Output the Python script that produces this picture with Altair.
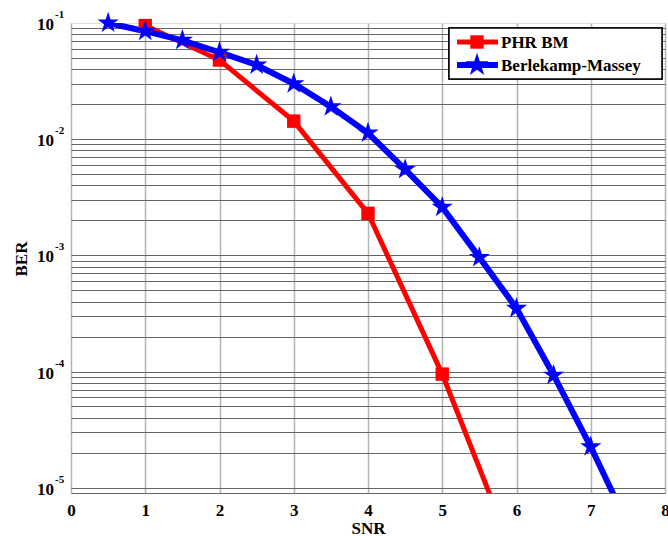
import altair as alt
import pandas as pd

# ---- data ----
series = ["PHR BM", "Berlekamp-Massey"]
snr_phr = [1, 2, 3, 4, 5, 6]
ber_phr = [0.095, 0.048, 0.0143, 0.0023, 9.5e-5, 2.3e-6]
snr_bm = [0.5, 1, 1.5, 2, 2.5, 3, 3.5, 4, 4.5, 5, 5.5, 6, 6.5, 7, 7.5]
ber_bm = [0.1, 0.085, 0.071, 0.056, 0.0435, 0.030, 0.019, 0.0113, 0.0055,
          0.0026, 0.00096, 0.00035, 9.3e-5, 2.25e-5, 4.8e-6]
x_ticks = [0, 1, 2, 3, 4, 5, 6, 7, 8]
decades = [1e-1, 1e-2, 1e-3, 1e-4, 1e-5]
decade_exp = ["-1", "-2", "-3", "-4", "-5"]
y_min, y_max = 9e-6, 0.1

y_grid = [m * 10.0 ** k for k in range(-6, -1) for m in range(1, 10)]
y_grid = [v for v in y_grid if y_min <= v <= y_max]

df = pd.concat([
    pd.DataFrame({"snr": snr_phr, "ber": ber_phr, "series": series[0]}),
    pd.DataFrame({"snr": snr_bm, "ber": ber_bm, "series": series[1]}),
])

FONT = "Liberation Serif"
RED = "#ff0000"
BLUE = "#0000ff"
STAR = ("M0,-1L0.2245,-0.309L0.9511,-0.309L0.3633,0.118L0.5878,0.809L0,0.382"
        "L-0.5878,0.809L-0.3633,0.118L-0.9511,-0.309L-0.2245,-0.309Z")

xs = alt.Scale(domain=[0, 8], nice=False, zero=False)
ys = alt.Scale(type="log", domain=[y_min, y_max], nice=False)

x_enc = alt.X("snr:Q", scale=xs, axis=alt.Axis(
    values=x_ticks, format="d", title="SNR", grid=True, gridColor="#b4b4b4",
    gridWidth=1.5, ticks=False, domain=False, labelFont=FONT, labelFontSize=17,
    labelFontWeight="bold", labelColor="black", labelPadding=9,
    titleFont=FONT, titleFontSize=17, titleFontWeight="bold",
    titleColor="black", titlePadding=2, labelFlush=False))
y_enc = alt.Y("ber:Q", scale=ys, axis=alt.Axis(
    values=y_grid, labels=False, title=None, grid=True, gridColor="#666666",
    gridWidth=1, ticks=False, domain=False))

base = alt.Chart(df)

red_line = base.transform_filter(alt.datum.series == series[0]).mark_line(
    color=RED, strokeWidth=5, clip=True).encode(x=x_enc, y=y_enc)
red_pts = base.transform_filter(
    (alt.datum.series == series[0]) & (alt.datum.ber >= y_min)
).mark_point(shape="square", filled=True, color=RED, size=180, opacity=1).encode(
    x=alt.X("snr:Q", scale=xs), y=alt.Y("ber:Q", scale=ys))
blue_line = base.transform_filter(alt.datum.series == series[1]).mark_line(
    color=BLUE, strokeWidth=6, clip=True).encode(
    x=alt.X("snr:Q", scale=xs), y=alt.Y("ber:Q", scale=ys))
blue_pts = base.transform_filter(
    (alt.datum.series == series[1]) & (alt.datum.ber >= y_min)
).mark_point(shape=STAR, filled=True, color=BLUE, size=500, opacity=1).encode(
    x=alt.X("snr:Q", scale=xs), y=alt.Y("ber:Q", scale=ys))

# y tick labels 10^k
dec_df = pd.DataFrame({"ber": decades, "exp": decade_exp, "ten": "10"})
ten_txt = alt.Chart(dec_df).mark_text(
    font=FONT, fontSize=17, fontWeight="bold", align="right", baseline="middle",
    dx=-17, dy=2, color="black").encode(
    x=alt.value(0), y=alt.Y("ber:Q", scale=ys), text="ten:N")
exp_txt = alt.Chart(dec_df).mark_text(
    font=FONT, fontSize=11, fontWeight="bold", align="left", baseline="middle",
    dx=-16, dy=-8, color="black").encode(
    x=alt.value(0), y=alt.Y("ber:Q", scale=ys), text="exp:N")

one = alt.Data(values=[{"ber_title": "BER"}])
ber_title = alt.Chart(one).mark_text(
    font=FONT, fontSize=17, fontWeight="bold", angle=270, align="center",
    baseline="middle", color="black").encode(
    x=alt.value(-49), y=alt.value(236), text="ber_title:N")

# legend
leg_df = pd.DataFrame({"series": series})
leg_box = alt.Chart(leg_df).mark_rect(
    fill="white", stroke="black", strokeWidth=1.5).encode(
    x=alt.value(378), x2=alt.value(591), y=alt.value(5), y2=alt.value(56))
leg_layers = [leg_box]
for i, (name, col) in enumerate(zip(series, [RED, BLUE])):
    yy = 19 + 23 * i
    sub = alt.Chart(leg_df).transform_filter(alt.datum.series == name)
    leg_layers.append(sub.mark_rule(color=col, strokeWidth=5 + i).encode(
        x=alt.value(386), x2=alt.value(427), y=alt.value(yy)))
    if i == 0:
        leg_layers.append(sub.mark_point(shape="square", filled=True, color=col,
                                         size=180, opacity=1).encode(
            x=alt.value(406), y=alt.value(yy)))
    else:
        leg_layers.append(sub.mark_point(shape=STAR, filled=True, color=col,
                                         size=600, opacity=1).encode(
            x=alt.value(406), y=alt.value(yy)))
    leg_layers.append(sub.mark_text(
        font=FONT, fontSize=17, fontWeight="bold", align="left",
        baseline="middle", color="black").encode(
        x=alt.value(430), y=alt.value(yy + 1), text="series:N"))

chart = alt.layer(
    red_line, blue_line, red_pts, blue_pts, ten_txt, exp_txt, ber_title,
    *leg_layers
).properties(
    width=594, height=470,
    autosize=alt.AutoSizeParams(type="none"),
    padding={"left": 71, "top": 23, "right": 3, "bottom": 43},
).configure_view(stroke="black", strokeWidth=2).configure(background="white")

chart.save("out.html", embed_options={"renderer": "svg", "actions": False})
